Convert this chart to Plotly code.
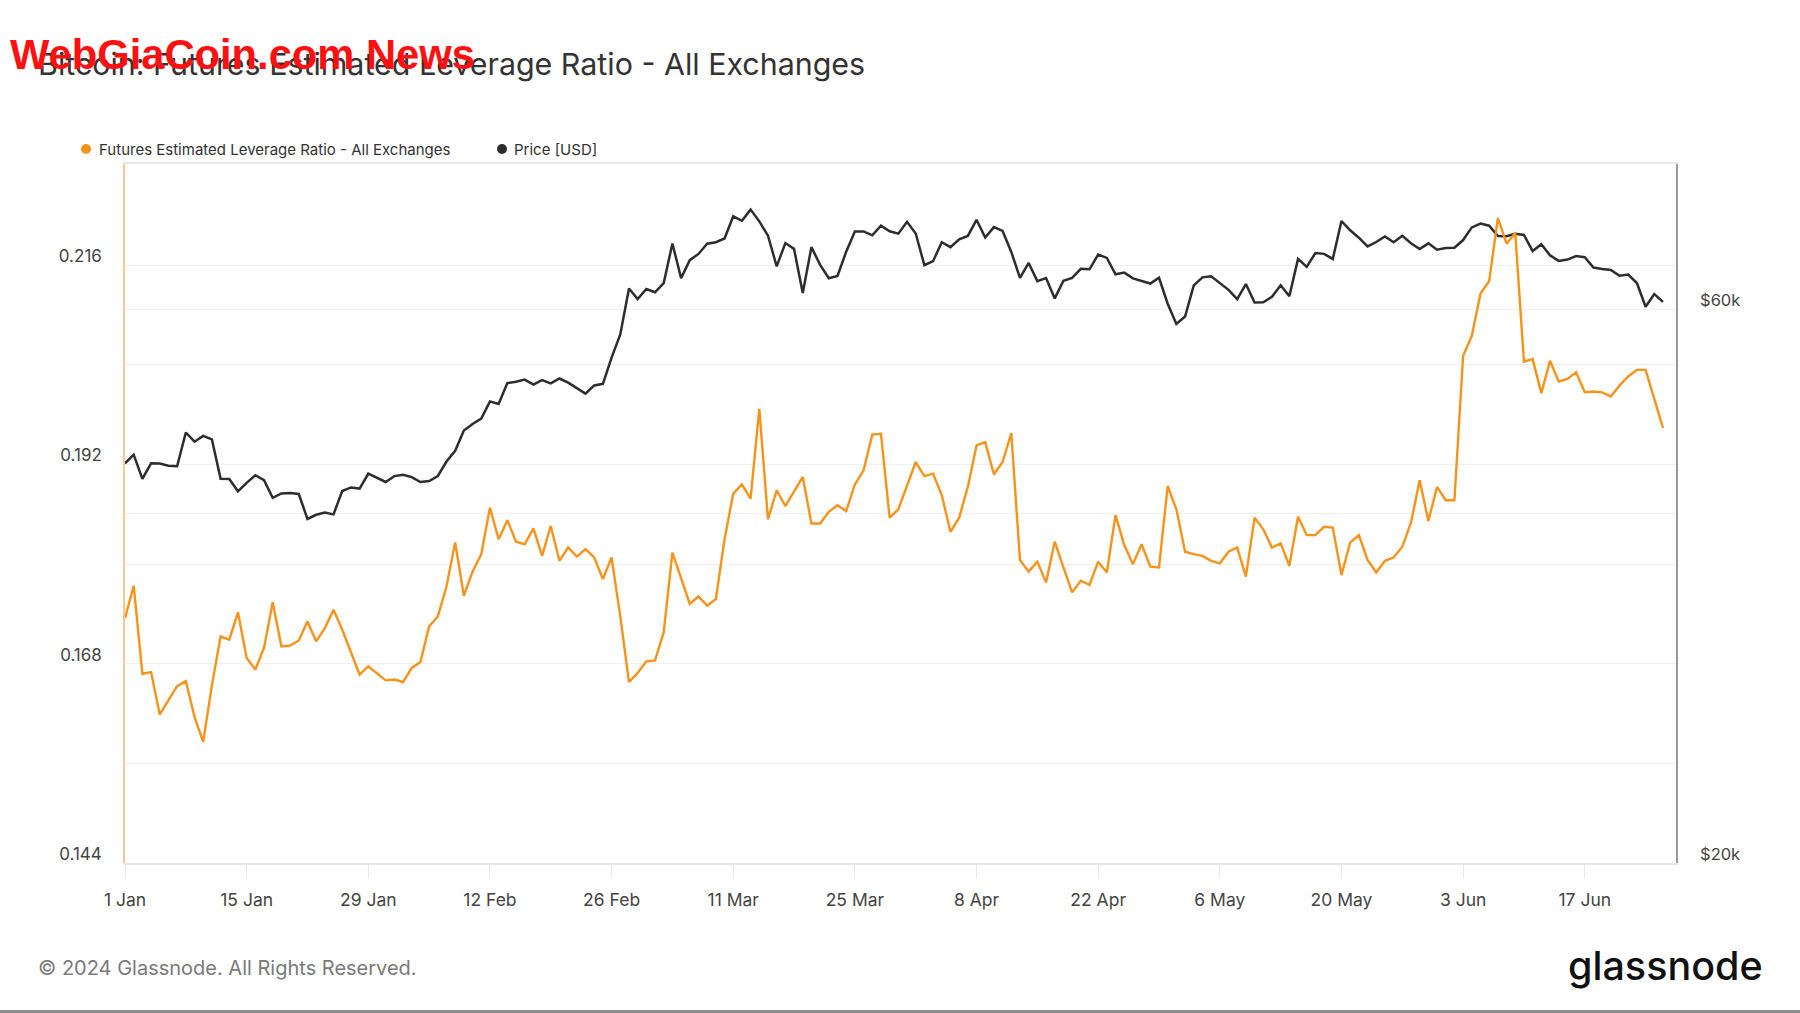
import plotly.graph_objects as go
import pandas as pd

# ---------------- data ----------------
start_date = "2024-01-01"
end_date = "2024-06-26"
dates = pd.date_range(start_date, end_date, freq="D")

leverage_ratio = [
    0.1735, 0.1774, 0.1668, 0.1670, 0.1619, 0.1636, 0.1653, 0.1659, 0.1616, 0.1586,
    0.1654, 0.1713, 0.1709, 0.1742, 0.1687, 0.1673, 0.1699, 0.1754, 0.1701, 0.1702,
    0.1708, 0.1731, 0.1707, 0.1723, 0.1745, 0.1721, 0.1694, 0.1667, 0.1677, 0.1668,
    0.1660, 0.1661, 0.1658, 0.1675, 0.1682, 0.1725, 0.1737, 0.1773, 0.1826, 0.1762,
    0.1791, 0.1812, 0.1868, 0.1830, 0.1853, 0.1827, 0.1824, 0.1843, 0.1810, 0.1846,
    0.1804, 0.1820, 0.1809, 0.1818, 0.1808, 0.1782, 0.1808, 0.1737, 0.1658, 0.1669,
    0.1683, 0.1684, 0.1718, 0.1814, 0.1784, 0.1752, 0.1761, 0.1750, 0.1758, 0.1830,
    0.1885, 0.1896, 0.1879, 0.1987, 0.1854, 0.1889, 0.1870, 0.1888, 0.1905, 0.1849,
    0.1849, 0.1863, 0.1871, 0.1864, 0.1896, 0.1913, 0.1956, 0.1957, 0.1856, 0.1866,
    0.1895, 0.1923, 0.1906, 0.1909, 0.1883, 0.1839, 0.1856, 0.1893, 0.1943, 0.1947,
    0.1908, 0.1923, 0.1958, 0.1805, 0.1791, 0.1803, 0.1778, 0.1827, 0.1796, 0.1766,
    0.1780, 0.1775, 0.1803, 0.1790, 0.1859, 0.1823, 0.1800, 0.1824, 0.1797, 0.1796,
    0.1894, 0.1866, 0.1815, 0.1812, 0.1810, 0.1804, 0.1801, 0.1815, 0.1820, 0.1785,
    0.1856, 0.1842, 0.1820, 0.1825, 0.1798, 0.1857, 0.1835, 0.1835, 0.1845, 0.1844,
    0.1787, 0.1826, 0.1835, 0.1805, 0.1790, 0.1804, 0.1808, 0.1821, 0.1850, 0.1901,
    0.1852, 0.1893, 0.1877, 0.1877, 0.2051, 0.2075, 0.2126, 0.2141, 0.2217, 0.2186,
    0.2199, 0.2044, 0.2047, 0.2006, 0.2045, 0.2020, 0.2023, 0.2031, 0.2007, 0.2008,
    0.2007, 0.2002, 0.2015, 0.2026, 0.2034, 0.2034, 0.1999, 0.1964,
]

price_usd = [
    # Jan
    44180, 44950, 42850, 44180, 44160, 43970, 43930, 46970, 46120, 46660,
    46340, 42850, 42840, 41800, 42510, 43150, 42740, 41260, 41620, 41660,
    41580, 39570, 39900, 40080, 39930, 41820, 42120, 42030, 43300, 42940,
    42580,
    # Feb
    43080, 43190, 42990, 42580, 42660, 43090, 44340, 45300, 47150, 47770,
    48290, 49960, 49700, 51810, 51940, 52160, 51660, 52120, 51780, 52280,
    51850, 51320, 50730, 51570, 51730, 54490, 57050, 62500, 61200,
    # Mar
    62440, 62030, 63170, 68330, 63800, 66110, 66930, 68300, 68500, 69020,
    72120, 71480, 73080, 71400, 69400, 65300, 68390, 67610, 61940, 67840,
    65500, 63780, 64060, 67230, 69990, 69990, 69450, 70780, 70000, 69680,
    71330,
    # Apr
    69700, 65450, 65980, 68510, 67840, 68900, 69360, 71620, 69150, 70590,
    70060, 67200, 63820, 65740, 63420, 63810, 61280, 63470, 63820, 64990,
    64920, 66840, 66410, 64280, 64500, 63760, 63420, 63110, 63840, 60640,
    # May
    58250, 59120, 62890, 63890, 64030, 63160, 62330, 61190, 63050, 60790,
    60820, 61480, 62900, 61550, 66270, 65230, 67050, 66940, 66270, 71450,
    70140, 69120, 67930, 68530, 69290, 68510, 69390, 68370, 67590, 68350,
    67490,
    # Jun
    67710, 67750, 68800, 70550, 71080, 70790, 69350, 69310, 69650, 69500,
    67320, 68240, 66750, 66010, 66190, 66640, 66490, 65150, 64960, 64830,
    64100, 64250, 63180, 60280, 61800, 60860,
]

series_names = ["Futures Estimated Leverage Ratio - All Exchanges", "Price [USD]"]
series_colors = ["#f7931a", "#2d2d2d"]

left_tick_values = [0.144, 0.156, 0.168, 0.180, 0.192, 0.204, 0.216]
left_tick_text = ["0.144", "", "0.168", "", "0.192", "", "0.216"]
right_tick_values = [20000, 40000, 60000, 80000]
right_tick_text = ["$20k", "", "$60k", ""]

title_text = "Bitcoin: Futures Estimated Leverage Ratio - All Exchanges"
watermark_text = "WebGiaCoin.com News"
footer_text = "\u00a9 2024 Glassnode. All Rights Reserved."
logo_text = "glassnode"

FONT = "Inter, 'Noto Sans', sans-serif"

# plot-area geometry in pixels (for placing page furniture in paper coords)
PL, PR, PT, PB = 125, 1676, 164, 863
PW, PH = PR - PL, PB - PT


def px(x):
    return (x - PL) / PW


def py(y):
    return (PB - y) / PH


# ---------------- figure ----------------
fig = go.Figure()

# price (main axis, right side, log)
fig.add_trace(go.Scatter(
    x=dates, y=price_usd, name=series_names[1], mode="lines",
    line=dict(color=series_colors[1], width=2.5), yaxis="y", showlegend=False,
))
# leverage ratio (overlay axis, left side) - drawn on top
fig.add_trace(go.Scatter(
    x=dates, y=leverage_ratio, name=series_names[0], mode="lines",
    line=dict(color=series_colors[0], width=2.4), yaxis="y2", showlegend=False,
))

# custom legend: dots + labels
legend_dot_x = [86, 502]
legend_text_x = [97, 512]
legend_y = 149
shapes = []
annotations = []
for name, color, dx, tx in zip(series_names, series_colors, legend_dot_x, legend_text_x):
    shapes.append(dict(
        type="circle", xref="paper", yref="paper", xsizemode="pixel", ysizemode="pixel",
        xanchor=px(dx), yanchor=py(legend_y), x0=-5, x1=5, y0=-5, y1=5,
        fillcolor=color, line=dict(width=0),
    ))
    annotations.append(dict(
        text=name, xref="paper", yref="paper", x=px(tx), y=py(legend_y),
        xanchor="left", yanchor="middle", showarrow=False,
        font=dict(size=15, color="#333333", family=FONT),
    ))

annotations += [
    dict(text="<b>" + watermark_text + "</b>", xref="paper", yref="paper",
         x=px(8), y=py(54), xanchor="left", yanchor="middle", showarrow=False,
         font=dict(size=41.7, color="#ff1010",
                   family="'Liberation Sans Narrow', 'Arial Narrow', 'Liberation Sans', sans-serif")),
    dict(text=footer_text, xref="paper", yref="paper",
         x=px(36), y=py(968), xanchor="left", yanchor="middle",
         showarrow=False, font=dict(size=20, color="#7a7a7a", family=FONT)),
    dict(text=logo_text, xref="paper", yref="paper",
         x=px(1765), y=py(966), xanchor="right", yanchor="middle",
         showarrow=False, font=dict(size=39.5, color="#111111", family=FONT, weight=500)),
]

shapes.append(dict(type="line", xref="paper", yref="paper",
                   x0=-0.09, x1=1.09, y0=py(1011.5), y1=py(1011.5),
                   line=dict(color="#8c8c8c", width=3)))

fig.update_layout(
    width=1800, height=1013,
    margin=dict(l=PL, r=1800 - PR, t=PT, b=1013 - PB),
    paper_bgcolor="white", plot_bgcolor="white",
    font=dict(family=FONT, color="#333333"),
    showlegend=False,
    title=dict(
        text=title_text, x=38 / 1800, xanchor="left", xref="container",
        y=1 - 64 / 1013, yanchor="middle", yref="container",
        font=dict(size=30.4, color="#333333", family=FONT),
    ),
    xaxis=dict(
        type="date",
        range=["2024-01-01 00:00", "2024-06-27 12:00"],
        tick0="2024-01-01", dtick=14 * 86400000, tickformat="%-d %b",
        ticks="outside", ticklen=13, tickcolor="#e6e6e6", tickwidth=1,
        ticklabelstandoff=7,
        tickfont=dict(size=17.5, color="#444444", family=FONT),
        showgrid=False, zeroline=False,
        showline=True, mirror=True, linecolor="#e8e8e8", linewidth=2,
    ),
    yaxis=dict(
        type="log", side="right",
        range=[4.30103, 4.90309],
        tickvals=right_tick_values, ticktext=right_tick_text,
        tickfont=dict(size=16.5, color="#444444", family=FONT),
        ticklabelshift=-9, ticklabelstandoff=19,
        showgrid=True, gridcolor="#f0f0f0", gridwidth=1,
        zeroline=False, showline=True, linecolor="#9a9a9a", linewidth=1.5,
    ),
    yaxis2=dict(
        overlaying="y", side="left",
        range=[0.144, 0.2282],
        tickvals=left_tick_values, ticktext=left_tick_text,
        tickfont=dict(size=17, color="#444444", family=FONT),
        ticklabelshift=-9, ticklabelstandoff=18,
        showgrid=True, gridcolor="#f0f0f0", gridwidth=1,
        zeroline=False, showline=True, linecolor="#f9c794", linewidth=1.5,
    ),
    annotations=annotations,
    shapes=shapes,
)

fig.write_html("out.html")
